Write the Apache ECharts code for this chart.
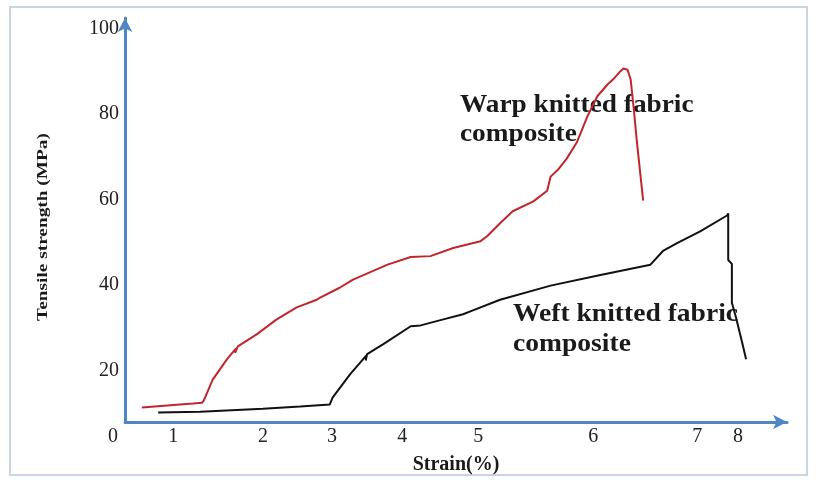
<!DOCTYPE html>
<html>
<head>
<meta charset="utf-8">
<script src="https://cdn.jsdelivr.net/npm/echarts@6/dist/echarts.min.js"></script>
<style>
  html, body { margin: 0; padding: 0; background: #ffffff; }
  #chart { width: 820px; height: 480px; }
</style>
</head>
<body>
<div id="chart"></div>
<script>
// ---- Data ----
// X axis of the reference is drawn with uneven tick spacing.
const xTickLabels = ['0', '1', '2', '3', '4', '5', '6', '7', '8'];
const xTickStrain = [0, 1, 2, 3, 4, 5, 6, 7, 8];
// where each strain tick sits along the drawn axis (axis units)
const xTickPos = [-0.16, 0.63, 1.80, 2.70, 3.62, 4.61, 6.11, 7.47, 8.00];
const yTickLabels = [20, 40, 60, 80, 100];

const warpName = 'Warp knitted fabric\ncomposite';
const warpStrain = [0.48, 1.22, 1.32, 1.34, 1.44, 1.60, 1.70, 1.69, 1.72, 1.93, 2.20, 2.49, 2.78, 2.83, 3.11, 3.30, 3.79, 4.11, 4.37, 4.67, 5.02, 5.08, 5.19, 5.30, 5.48, 5.60, 5.63, 5.70, 5.77, 5.86, 5.95, 6.04, 6.14, 6.19, 6.26, 6.29, 6.33, 6.36, 6.39, 6.42, 6.45, 6.48];
const warpStress = [11.4, 12.3, 12.5, 13.0, 17.9, 22.7, 25.2, 24.2, 25.7, 28.5, 32.0, 34.8, 36.6, 37.1, 39.4, 41.3, 44.8, 46.6, 46.8, 48.7, 50.3, 51.5, 54.5, 57.3, 59.6, 62.1, 65.4, 67.2, 69.6, 73.5, 79.5, 84.2, 87.0, 88.1, 90.0, 90.7, 90.4, 88.1, 81.2, 73.5, 66.6, 59.8];

const weftName = 'Weft knitted fabric\ncomposite';
const weftStrain = [0.75, 1.30, 2.00, 2.54, 2.97, 3.01, 3.26, 3.49, 3.48, 3.50, 3.73, 4.11, 4.24, 4.54, 4.80, 4.93, 5.19, 5.63, 6.07, 6.55, 6.67, 6.81, 7.07, 7.73, 7.76, 7.76, 7.85, 7.85, 7.95, 8.10, 8.20];
const weftStress = [10.2, 10.4, 11.1, 11.6, 12.1, 13.7, 19.2, 23.6, 22.4, 23.9, 26.2, 30.4, 30.6, 32.0, 33.2, 34.1, 36.6, 39.9, 42.4, 44.8, 48.0, 49.9, 52.6, 56.3, 56.8, 45.9, 45.0, 35.9, 32.5, 26.7, 22.7];

// ---- strain -> position on the unevenly graduated axis ----
function strainToAxis(s) {
  const n = xTickStrain.length;
  let i = 0;
  while (i < n - 2 && s > xTickStrain[i + 1]) i++;
  const t = (s - xTickStrain[i]) / (xTickStrain[i + 1] - xTickStrain[i]);
  return xTickPos[i] + t * (xTickPos[i + 1] - xTickPos[i]);
}
function pairs(xs, ys) { return xs.map((s, i) => [strainToAxis(s), ys[i]]); }

const axisColor = '#4f86c6';
const serif = '"Liberation Serif", "DejaVu Serif", serif';
const labelPos = [0].concat(xTickPos.slice(1));

const chart = echarts.init(document.getElementById('chart'), null, { renderer: 'canvas' });
chart.setOption({
  backgroundColor: '#ffffff',
  animation: false,
  grid: { left: 125, right: 33, top: 18, bottom: 54.5 },
  xAxis: {
    type: 'value', min: 0, max: 8.64,
    name: 'Strain(%)', nameLocation: 'middle', nameGap: 33,
    nameTextStyle: { fontFamily: serif, fontWeight: 'bold', fontSize: 20, color: '#1a1a1a' },
    axisLine: { show: true, symbol: ['none', 'arrow'], symbolSize: [11, 14], lineStyle: { color: axisColor, width: 3 } },
    axisTick: { show: false },
    splitLine: { show: false },
    axisLabel: {
      customValues: labelPos,
      margin: 5,
      fontFamily: serif, fontSize: 20, color: '#222',
      formatter: function (v) {
        let idx = 0, best = 1e9;
        labelPos.forEach((p, i) => { const d = Math.abs(p - v); if (d < best) { best = d; idx = i; } });
        return idx === 0 ? '{o|' + xTickLabels[0] + '}' : xTickLabels[idx];
      },
      rich: { o: { fontFamily: serif, fontSize: 20, color: '#222', padding: [0, 24, 0, 0] } }
    }
  },
  yAxis: {
    type: 'value', min: 8, max: 102.5,
    axisLine: { show: true, symbol: ['none', 'arrow'], symbolSize: [11, 14], lineStyle: { color: axisColor, width: 3 } },
    axisTick: { show: false },
    splitLine: { show: false },
    axisLabel: { customValues: yTickLabels, margin: 6, fontFamily: serif, fontSize: 20, color: '#222' }
  },
  series: [
    {
      name: warpName, type: 'line', data: pairs(warpStrain, warpStress), z: 5,
      showSymbol: false, symbol: 'none', smooth: false, clip: false,
      lineStyle: { color: '#c0262d', width: 2 }
    },
    {
      name: weftName, type: 'line', data: pairs(weftStrain, weftStress), z: 5,
      showSymbol: false, symbol: 'none', smooth: false, clip: false,
      lineStyle: { color: '#111111', width: 2 }
    }
  ],
  graphic: [
    { type: 'rect', silent: true, z: -1, shape: { x: 10, y: 7, width: 797, height: 468 },
      style: { fill: 'none', stroke: '#c8d5e2', lineWidth: 2 } },
    { type: 'text', x: 43, y: 227, rotation: Math.PI / 2, scaleX: 1.38, z: 1,
      style: { text: 'Tensile strength (MPa)', font: 'bold 14px ' + serif, fill: '#1a1a1a', textAlign: 'center', textVerticalAlign: 'middle' } },
    { type: 'text', x: 460, y: 91, scaleX: 1.05, z: 1,
      style: { text: warpName, font: 'bold 26px ' + serif, lineHeight: 29, fill: '#1a1a1a', textAlign: 'left', textVerticalAlign: 'top' } },
    { type: 'text', x: 513, y: 299, scaleX: 1.06, z: 1,
      style: { text: weftName, font: 'bold 26px ' + serif, lineHeight: 30, fill: '#1a1a1a', textAlign: 'left', textVerticalAlign: 'top' } }
  ]
});
</script>
</body>
</html>
